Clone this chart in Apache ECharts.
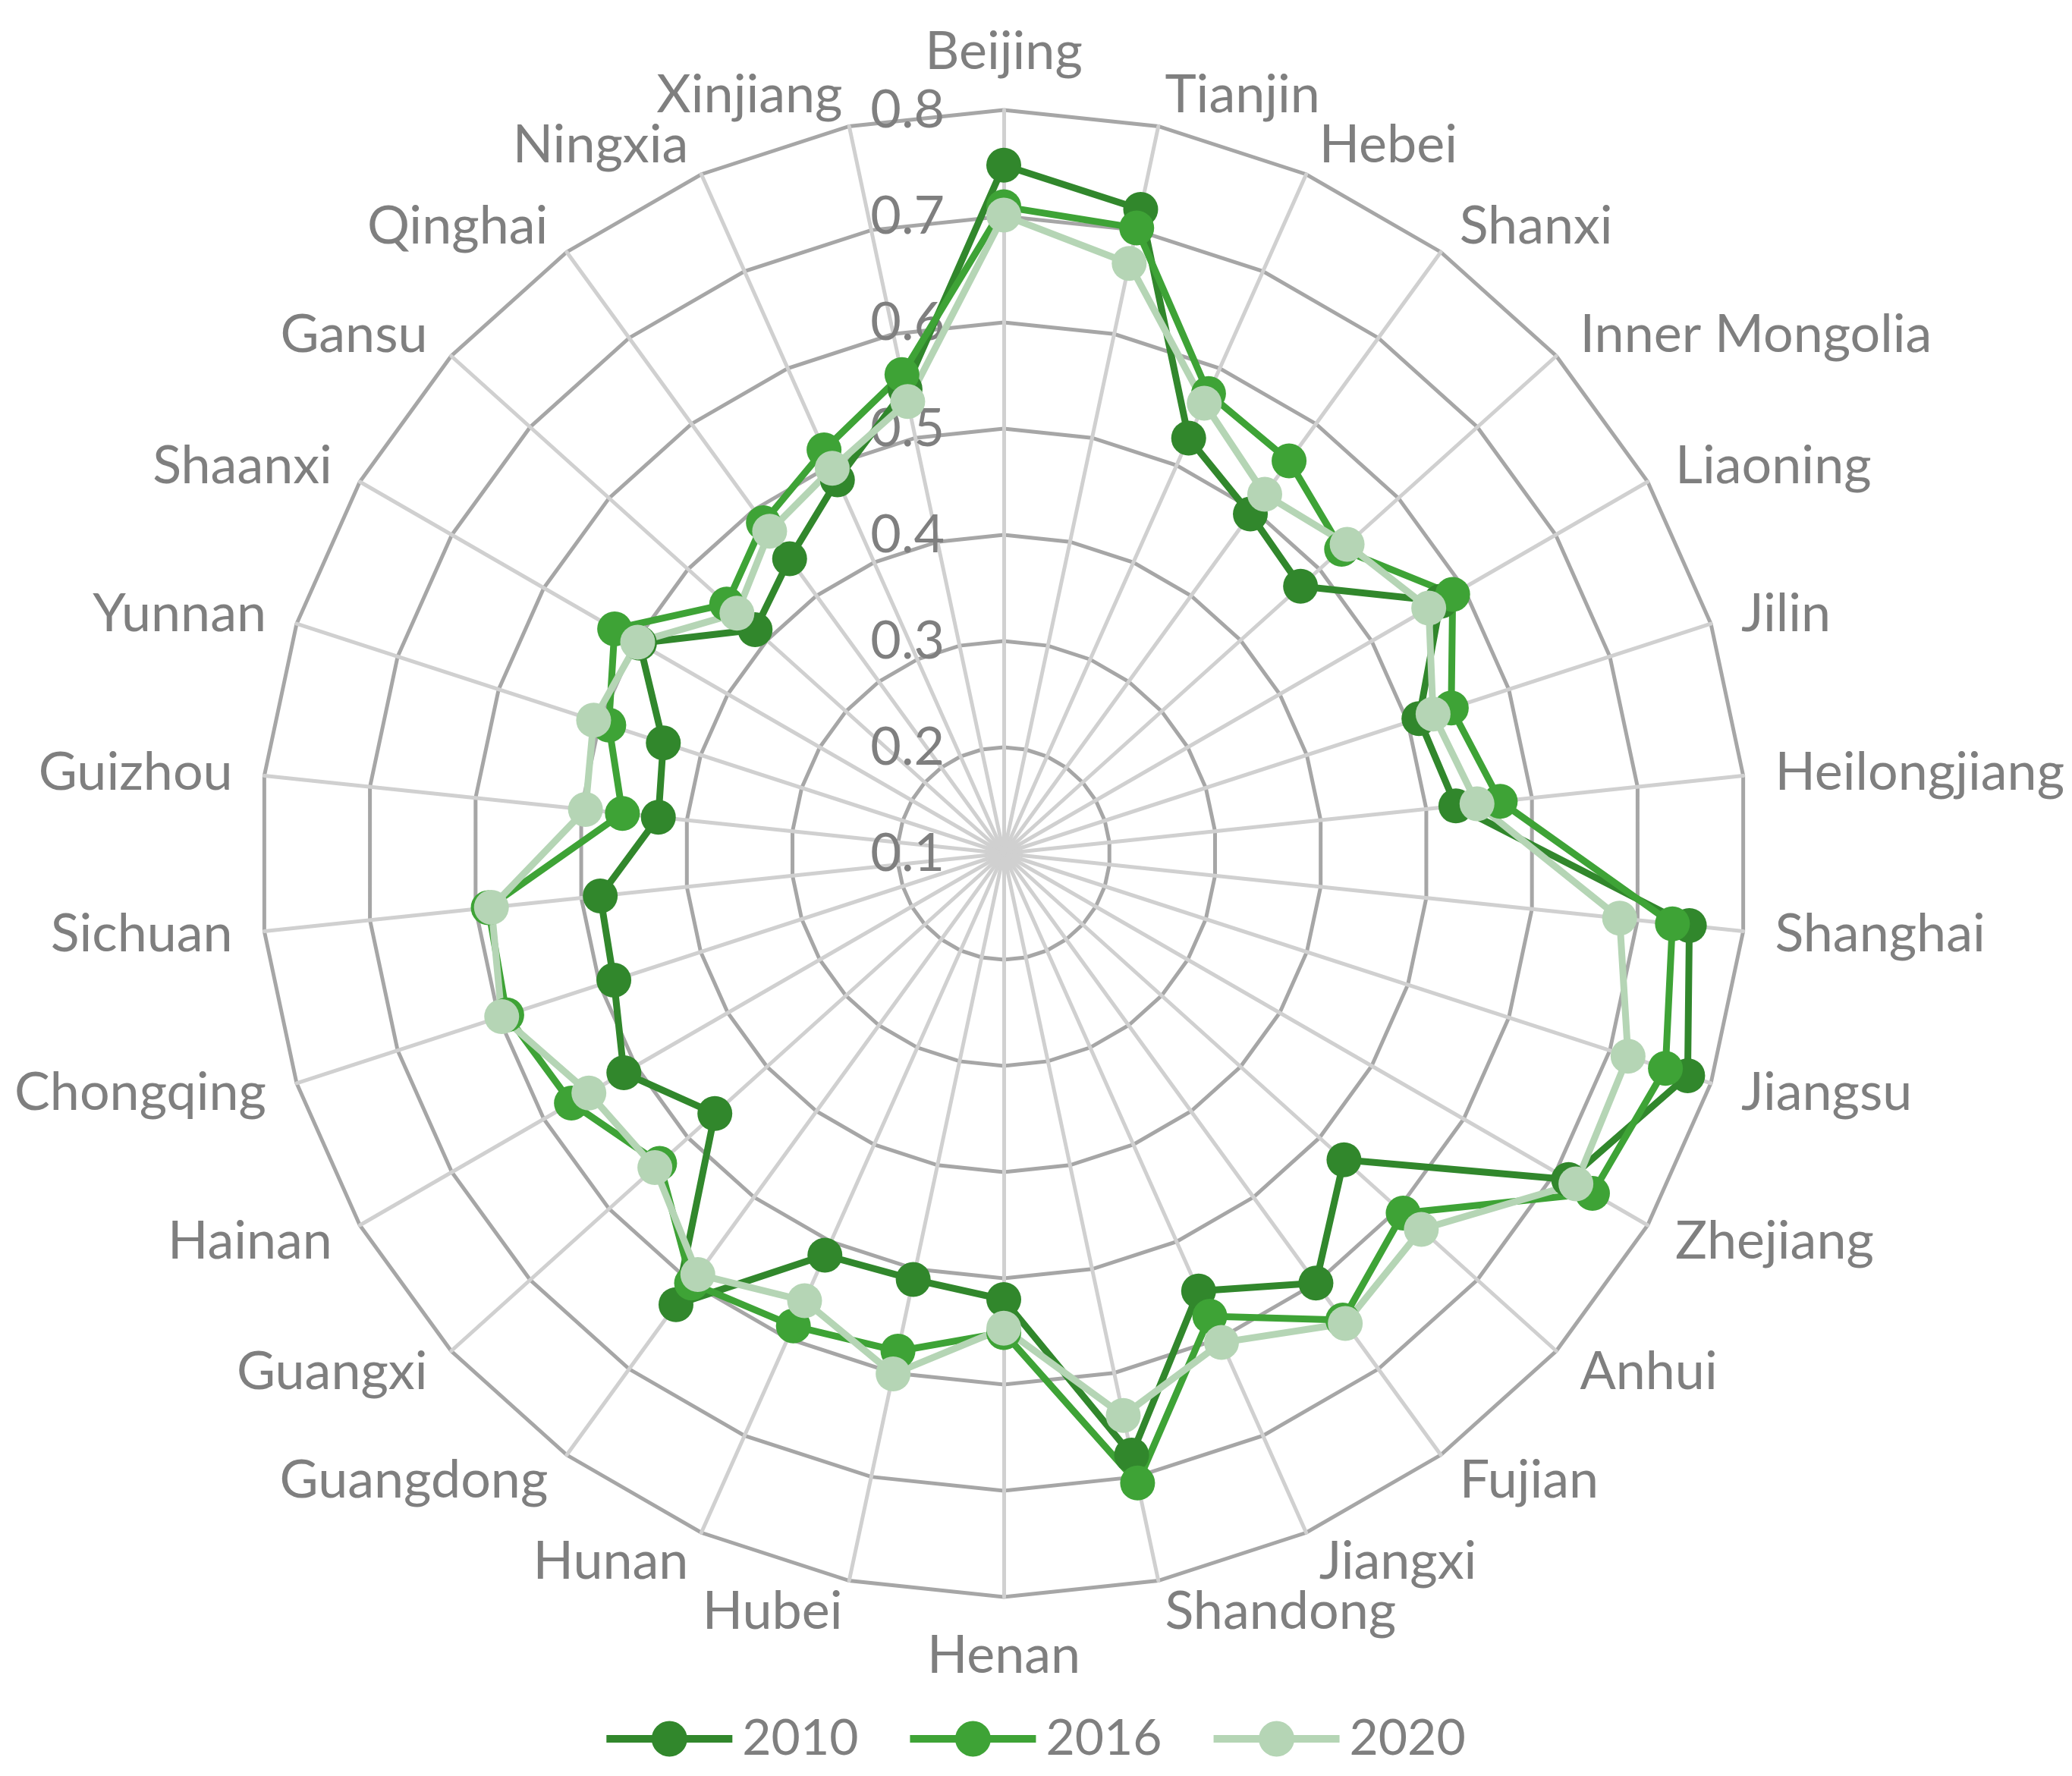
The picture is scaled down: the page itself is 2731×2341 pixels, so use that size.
<!DOCTYPE html>
<html>
<head>
<meta charset="utf-8">
<title>Radar chart</title>
<script src="https://cdn.jsdelivr.net/npm/echarts@6/dist/echarts.min.js"></script>
<style>
  html, body { margin: 0; padding: 0; background: #ffffff; }
  #main { width: 2731px; height: 2341px; }
</style>
</head>
<body>
<div id="main"></div>
<script>
// categories, clockwise from the top
var provinces = ['Beijing', 'Tianjin', 'Hebei', 'Shanxi', 'Inner Mongolia', 'Liaoning', 'Jilin',
  'Heilongjiang', 'Shanghai', 'Jiangsu', 'Zhejiang', 'Anhui', 'Fujian', 'Jiangxi', 'Shandong',
  'Henan', 'Hubei', 'Hunan', 'Guangdong', 'Guangxi', 'Hainan', 'Chongqing', 'Sichuan', 'Guizhou',
  'Yunnan', 'Shaanxi', 'Gansu', 'Qinghai', 'Ningxia', 'Xinjiang'];

var years = ['2010', '2016', '2020'];

var v2010 = [0.748, 0.720, 0.528, 0.495, 0.476, 0.575, 0.511, 0.528, 0.749, 0.777, 0.714, 0.531,
  0.600, 0.551, 0.679, 0.520, 0.510, 0.514, 0.625, 0.466, 0.513, 0.486, 0.482, 0.427, 0.437,
  0.496, 0.415, 0.443, 0.485, 0.547];
var v2016 = [0.709, 0.702, 0.574, 0.557, 0.528, 0.588, 0.543, 0.570, 0.733, 0.755, 0.740, 0.606,
  0.643, 0.577, 0.706, 0.551, 0.579, 0.587, 0.600, 0.536, 0.570, 0.592, 0.588, 0.461, 0.491,
  0.523, 0.451, 0.485, 0.516, 0.561];
var v2020 = [0.701, 0.668, 0.564, 0.518, 0.535, 0.562, 0.525, 0.548, 0.683, 0.718, 0.722, 0.629,
  0.647, 0.604, 0.641, 0.547, 0.601, 0.561, 0.590, 0.542, 0.551, 0.597, 0.585, 0.496, 0.506,
  0.498, 0.438, 0.475, 0.497, 0.535];

var ticks = [0.1, 0.2, 0.3, 0.4, 0.5, 0.6, 0.7, 0.8];

var colors = ['#31872c', '#3ea336', '#b5d5b5'];
var textGrey = '#7f7f7f';
var font = 'Lato';

// echarts lays radar axes out counter-clockwise, the original goes clockwise
function clockwise(arr) {
  return [arr[0]].concat(arr.slice(1).reverse());
}

var indicators = clockwise(provinces).map(function (name, i) {
  var ind = { name: name, min: ticks[0], max: ticks[ticks.length - 1] };
  if (i === 0) {
    // value labels only along the Beijing axis
    ind.axisLabel = { show: true };
  }
  return ind;
});

var allValues = [v2010, v2016, v2020];

var chart = echarts.init(document.getElementById('main'), null, { renderer: 'canvas' });

var option = {
  animation: false,
  backgroundColor: '#ffffff',
  legend: {
    data: years,
    left: 'center',
    top: 2254,
    itemWidth: 166,
    itemHeight: 47,
    itemGap: 68,
    icon: 'path://M0,18.5H166V28.5H0Z M59.5,23.5A23.5,23.5 0 1,1 106.5,23.5A23.5,23.5 0 1,1 59.5,23.5Z',
    textStyle: { color: textGrey, fontSize: 66, fontFamily: font, padding: [0, 0, 0, 8] }
  },
  radar: {
    center: [1323, 1125],
    radius: 980,
    startAngle: 90,
    shape: 'polygon',
    splitNumber: ticks.length - 1,
    nameGap: 42,
    indicator: indicators,
    axisName: { color: textGrey, fontSize: 70, fontFamily: font },
    axisLine: { lineStyle: { color: '#d0d0d0', width: 5 } },
    splitLine: { lineStyle: { color: '#a6a6a6', width: 5 } },
    splitArea: { show: false },
    axisTick: { show: false },
    axisLabel: {
      show: false,
      color: textGrey,
      fontSize: 70,
      fontFamily: font,
      margin: 78,
      formatter: function (v) { return (+v).toFixed(1); }
    }
  },
  series: [{
    type: 'radar',
    symbol: 'circle',
    symbolSize: 46,
    data: years.map(function (y, k) {
      return {
        name: y,
        value: clockwise(allValues[k]),
        itemStyle: { color: colors[k] },
        lineStyle: { color: colors[k], width: 9 }
      };
    })
  }]
};

chart.setOption(option);
</script>
</body>
</html>
